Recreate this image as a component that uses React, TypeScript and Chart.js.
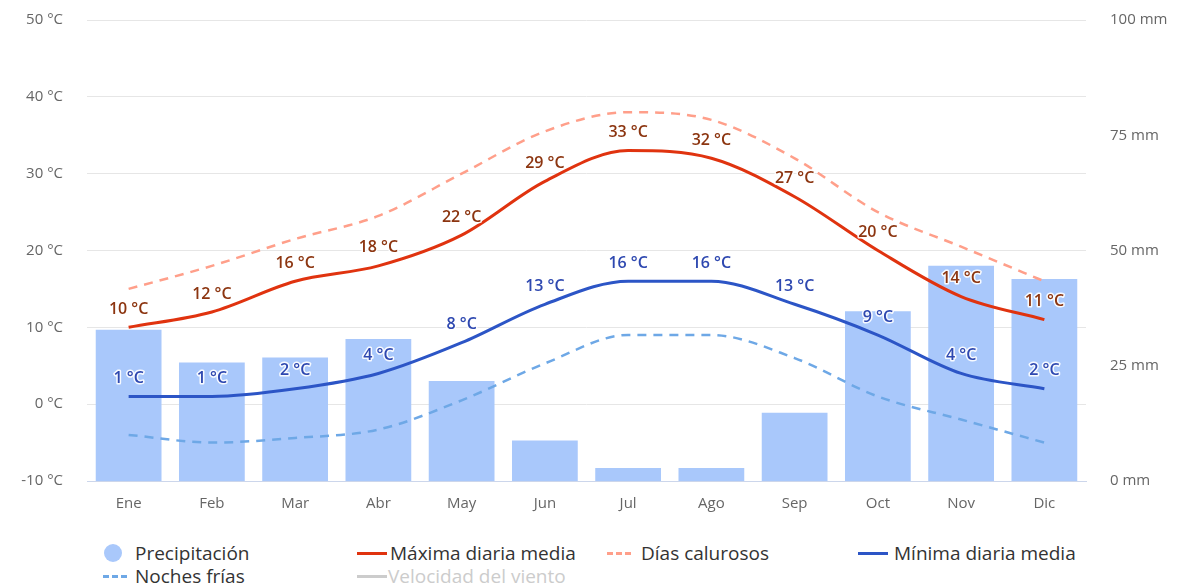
import React, { useEffect, useRef } from "react";
import { Chart, registerables } from "chart.js";

Chart.register(...registerables);

const months = ["Ene", "Feb", "Mar", "Abr", "May", "Jun", "Jul", "Ago", "Sep", "Oct", "Nov", "Dic"];
const precipitation = [32.8, 25.7, 26.8, 30.8, 21.7, 8.8, 2.8, 2.8, 14.8, 36.8, 46.7, 43.8];
const maxTemp = [10, 12, 16, 18, 22, 29, 33, 32, 27, 20, 14, 11];
const hotDays = [15, 18, 21.5, 24.5, 30, 35.5, 38, 37, 32, 25, 20.5, 16];
const minTemp = [1, 1, 2, 4, 8, 13, 16, 16, 13, 9, 4, 2];
const coldNights = [-4, -5, -4.4, -3.3, 0.5, 5.3, 9, 9, 6, 1, -2, -5];
const tempTicks = [-10, 0, 10, 20, 30, 40, 50];
const precipTicks = [0, 25, 50, 75, 100];

const FONT = '"Open Sans", "DejaVu Sans", sans-serif';
const C_BAR = "#a9c8fb";
const C_MAX = "#e0330f";
const C_HOT = "#ff9f8a";
const C_MIN = "#2c55c6";
const C_COLD = "#6ea8e6";

const labelPlugin = {
  id: "pointLabels",
  afterDatasetsDraw(chart: any) {
    const ctx = chart.ctx;
    const sets: [number, number[], string][] = [
      [1, maxTemp, "#8c3510"],
      [3, minTemp, "#2e48b0"],
    ];
    ctx.save();
    ctx.font = `600 16px ${FONT}`;
    ctx.textAlign = "center";
    ctx.textBaseline = "middle";
    ctx.lineJoin = "round";
    sets.forEach(([idx, vals, color]) => {
      const meta = chart.getDatasetMeta(idx);
      meta.data.forEach((pt: any, j: number) => {
        const text = `${vals[j]} °C`;
        ctx.lineWidth = 3;
        ctx.strokeStyle = "rgba(255,255,255,0.9)";
        ctx.strokeText(text, pt.x, pt.y - 18);
        ctx.fillStyle = color;
        ctx.fillText(text, pt.x, pt.y - 18);
      });
    });
    ctx.restore();
  },
};

function LegendLine({ color, dashed, x, y, width }: { color: string; dashed?: boolean; x: number; y: number; width: number }) {
  return (
    <div
      style={{
        position: "absolute",
        left: x,
        top: y - 1.5,
        width,
        height: 0,
        borderTop: `3px ${dashed ? "dashed" : "solid"} ${color}`,
      }}
    />
  );
}

function LegendText({ text, x, y, color }: { text: string; x: number; y: number; color?: string }) {
  return (
    <div
      style={{
        position: "absolute",
        left: x,
        top: y - 13,
        fontFamily: FONT,
        fontSize: 19,
        lineHeight: "26px",
        color: color || "#333",
        whiteSpace: "nowrap",
      }}
    >
      {text}
    </div>
  );
}

export default function App() {
  const ref = useRef<HTMLCanvasElement>(null);

  useEffect(() => {
    if (!ref.current) return;
    const lineCommon = {
      type: "line",
      yAxisID: "yT",
      pointRadius: 0,
      cubicInterpolationMode: "monotone",
    };
    const chart = new Chart(ref.current, {
      type: "bar",
      data: {
        labels: months,
        datasets: [
          {
            type: "bar",
            label: "Precipitación",
            data: precipitation,
            yAxisID: "yP",
            backgroundColor: C_BAR,
            categoryPercentage: 1,
            barPercentage: 0.79,
            order: 10,
          },
          {
            ...lineCommon,
            label: "Máxima diaria media",
            data: maxTemp,
            borderColor: C_MAX,
            borderWidth: 3,
            order: 2,
          },
          {
            ...lineCommon,
            label: "Días calurosos",
            data: hotDays,
            borderColor: C_HOT,
            borderWidth: 2.5,
            borderDash: [9, 7],
            order: 3,
          },
          {
            ...lineCommon,
            label: "Mínima diaria media",
            data: minTemp,
            borderColor: C_MIN,
            borderWidth: 3,
            order: 2,
          },
          {
            ...lineCommon,
            label: "Noches frías",
            data: coldNights,
            borderColor: C_COLD,
            borderWidth: 2.5,
            borderDash: [9, 7],
            order: 3,
          },
        ],
      } as any,
      options: {
        responsive: false,
        animation: false,
        layout: { padding: { top: 20, bottom: 0, left: 0, right: 0 } },
        plugins: {
          legend: { display: false },
          tooltip: { enabled: false },
        },
        scales: {
          x: {
            grid: { display: false, drawTicks: false },
            border: { display: true, color: "#ccd6eb", width: 1 },
            ticks: { color: "#666", font: { family: FONT, size: 15 }, padding: 14 },
            afterFit: (s: any) => {
              s.height = 49;
            },
          },
          yT: {
            position: "left",
            min: -10,
            max: 50,
            afterBuildTicks: (s: any) => {
              s.ticks = tempTicks.map((v) => ({ value: v }));
            },
            grid: { color: "#e6e6e6", drawTicks: false },
            border: { display: false },
            ticks: {
              color: "#666",
              font: { family: FONT, size: 15 },
              padding: 24,
              callback: (v: any) => `${v} °C`,
            },
            afterFit: (s: any) => {
              s.width = 87;
              s.paddingTop = 0;
              s.paddingBottom = 0;
            },
          },
          yP: {
            position: "right",
            min: 0,
            max: 100,
            afterBuildTicks: (s: any) => {
              s.ticks = precipTicks.map((v) => ({ value: v }));
            },
            grid: { display: false, drawTicks: false },
            border: { display: false },
            ticks: {
              color: "#666",
              font: { family: FONT, size: 15 },
              padding: 24,
              callback: (v: any) => `${v} mm`,
            },
            afterFit: (s: any) => {
              s.width = 102;
              s.paddingTop = 0;
              s.paddingBottom = 0;
            },
          },
        },
      } as any,
      plugins: [labelPlugin],
    });
    return () => chart.destroy();
  }, []);

  return (
    <div style={{ position: "absolute", left: 0, top: 0, width: 1188, height: 587, background: "#fff" }}>
      <canvas ref={ref} width={1188} height={530} style={{ display: "block" }} />
      <div
        style={{
          position: "absolute",
          left: 104,
          top: 544,
          width: 18,
          height: 18,
          borderRadius: "50%",
          background: C_BAR,
        }}
      />
      <LegendText text="Precipitación" x={135} y={553} />
      <LegendLine color={C_MAX} x={357} y={553} width={30} />
      <LegendText text="Máxima diaria media" x={390} y={553} />
      <LegendLine color={C_HOT} dashed x={607} y={553} width={24} />
      <LegendText text="Días calurosos" x={641} y={553} />
      <LegendLine color={C_MIN} x={858} y={553} width={30} />
      <LegendText text="Mínima diaria media" x={894} y={553} />
      <LegendLine color={C_COLD} dashed x={103} y={576} width={24} />
      <LegendText text="Noches frías" x={135} y={576} />
      <LegendLine color="#cccccc" x={357} y={576} width={30} />
      <LegendText text="Velocidad del viento" x={388} y={576} color="#cccccc" />
    </div>
  );
}
